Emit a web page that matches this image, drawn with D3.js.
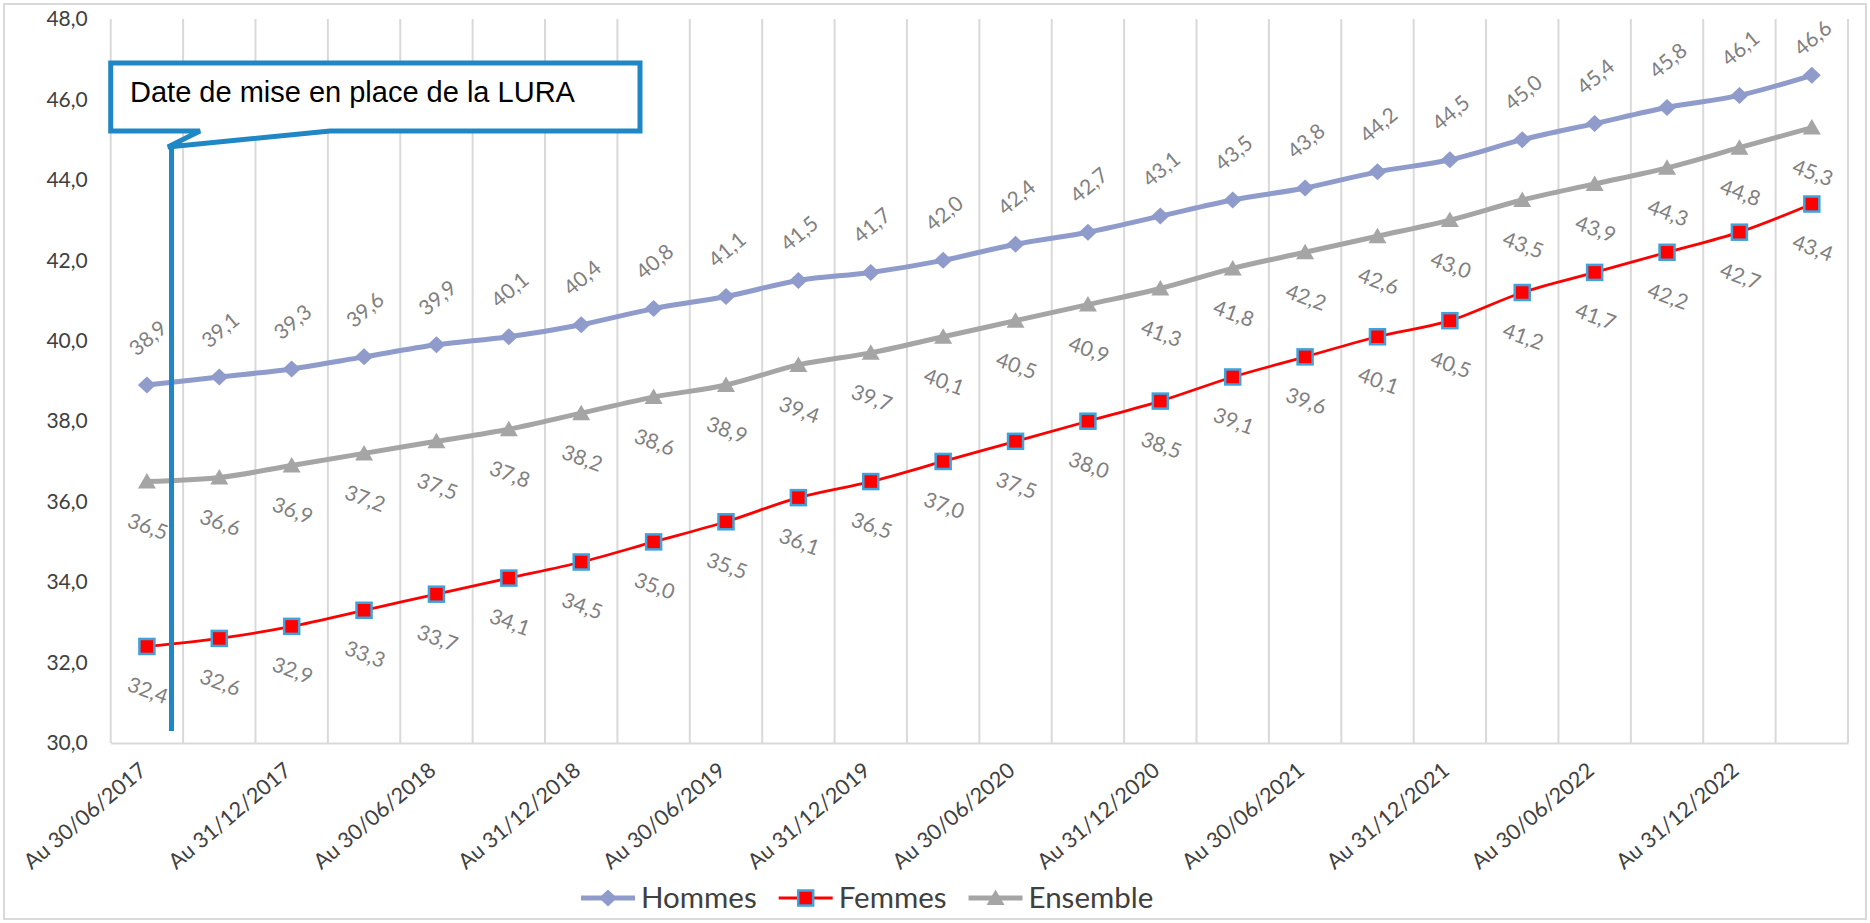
<!DOCTYPE html>
<html>
<head>
<meta charset="utf-8">
<script src="https://cdn.jsdelivr.net/npm/d3@7"></script>
<style>
  html, body { margin: 0; padding: 0; background: #ffffff; }
  svg { display: block; }
  text { font-family: Lato, "Noto Sans", sans-serif; }
</style>
</head>
<body>
<svg id="chart" width="1870" height="923"></svg>
<script>
// ---------- DATA ----------
const categories = [
  "Au 30/06/2017","Au 30/09/2017","Au 31/12/2017","Au 31/03/2018",
  "Au 30/06/2018","Au 30/09/2018","Au 31/12/2018","Au 31/03/2019",
  "Au 30/06/2019","Au 30/09/2019","Au 31/12/2019","Au 31/03/2020",
  "Au 30/06/2020","Au 30/09/2020","Au 31/12/2020","Au 31/03/2021",
  "Au 30/06/2021","Au 30/09/2021","Au 31/12/2021","Au 31/03/2022",
  "Au 30/06/2022","Au 30/09/2022","Au 31/12/2022","Au 31/03/2023"
];
const hommes = [38.9,39.1,39.3,39.6,39.9,40.1,40.4,40.8,41.1,41.5,41.7,42.0,
                42.4,42.7,43.1,43.5,43.8,44.2,44.5,45.0,45.4,45.8,46.1,46.6];
const femmes = [32.4,32.6,32.9,33.3,33.7,34.1,34.5,35.0,35.5,36.1,36.5,37.0,
                37.5,38.0,38.5,39.1,39.6,40.1,40.5,41.2,41.7,42.2,42.7,43.4];
const ensemble = [36.5,36.6,36.9,37.2,37.5,37.8,38.2,38.6,38.9,39.4,39.7,40.1,
                  40.5,40.9,41.3,41.8,42.2,42.6,43.0,43.5,43.9,44.3,44.8,45.3];
const seriesNames = ["Hommes","Femmes","Ensemble"];
const yTicks = [30,32,34,36,38,40,42,44,46,48];
const calloutText = "Date de mise en place de la LURA";

// ---------- SETUP ----------
const W = 1870, H = 923;
const plot = { left: 110.7, right: 1848, top: 19, bottom: 743 };
const svg = d3.select("#chart");
const fr = d3.formatLocale({ decimal: ",", thousands: " ", grouping: [3], currency: ["", ""] });
const fmt = fr.format(".1f");

const x = d3.scaleBand().domain(categories).range([plot.left, plot.right]).padding(0);
const y = d3.scaleLinear().domain([30, 48]).range([plot.bottom, plot.top]);
const cx = (i) => x(categories[i]) + x.bandwidth() / 2;

// chart border
svg.append("rect").attr("x", 4).attr("y", 4).attr("width", W - 8).attr("height", H - 8)
  .attr("fill", "#fff").attr("stroke", "#d9d9d9").attr("stroke-width", 2);

// vertical gridlines (category boundaries)
const bounds = categories.map(c => x(c)).concat([x.range()[1]]);
svg.append("g").selectAll("line").data(bounds).join("line")
  .attr("x1", d => d).attr("x2", d => d)
  .attr("y1", plot.top).attr("y2", plot.bottom)
  .attr("stroke", "#d9d9d9").attr("stroke-width", 2);

// x axis
const xAxis = svg.append("g").attr("transform", `translate(0,${plot.bottom})`)
  .call(d3.axisBottom(x).tickSize(0).tickFormat((d, i) => i % 2 === 0 ? d : ""));
xAxis.select(".domain").attr("stroke", "#d9d9d9").attr("stroke-width", 2);
xAxis.selectAll("text")
  .attr("x", 0).attr("y", 0).attr("dy", "0.35em")
  .attr("transform", "translate(-4,24) rotate(-40)")
  .attr("text-anchor", "end")
  .attr("fill", "#404040")
  .style("font-size", "21.6px");

// y axis
const yAxis = svg.append("g").attr("transform", `translate(${plot.left},0)`)
  .call(d3.axisLeft(y).tickValues(yTicks).tickSize(0).tickPadding(23).tickFormat(fmt));
yAxis.select(".domain").remove();
yAxis.selectAll("text").attr("fill", "#404040").style("font-size", "21px");

// ---------- SERIES ----------
const line = d3.line().x((d, i) => cx(i)).y(d => y(d)).curve(d3.curveMonotoneX);

const diamond = "M0,-8.5L9,0L0,8.5L-9,0Z";
const triangle = "M0,-8.5L9,7L-9,7Z";

// Ensemble
svg.append("path").datum(ensemble).attr("d", line)
  .attr("fill", "none").attr("stroke", "#a5a5a5").attr("stroke-width", 5);
// Hommes
svg.append("path").datum(hommes).attr("d", line)
  .attr("fill", "none").attr("stroke", "#8e9bcb").attr("stroke-width", 5);
// Femmes
svg.append("path").datum(femmes).attr("d", line)
  .attr("fill", "none").attr("stroke", "#ff0000").attr("stroke-width", 2.8);

svg.append("g").selectAll("path").data(ensemble).join("path")
  .attr("d", triangle).attr("fill", "#a5a5a5")
  .attr("transform", (d, i) => `translate(${cx(i)},${y(d)})`);
svg.append("g").selectAll("path").data(hommes).join("path")
  .attr("d", diamond).attr("fill", "#8e9bcb")
  .attr("transform", (d, i) => `translate(${cx(i)},${y(d)})`);
svg.append("g").selectAll("rect").data(femmes).join("rect")
  .attr("x", (d, i) => cx(i) - 7.5).attr("y", d => y(d) - 7.5)
  .attr("width", 15).attr("height", 15)
  .attr("fill", "#ff0000").attr("stroke", "#3ea2dc").attr("stroke-width", 2.5);

// data labels
function labels(data, off, rot, clampTop) {
  svg.append("g").selectAll("text").data(data).join("text")
    .attr("transform", (d, i) => {
      let yy = y(d) + off;
      if (clampTop !== undefined) yy = Math.max(yy, clampTop);
      return `translate(${cx(i) + 1},${yy}) rotate(${rot})`;
    })
    .attr("text-anchor", "middle").attr("dy", "0.35em")
    .attr("fill", "#808080").style("font-size", "21px")
    .text(d => fmt(d));
}
labels(hommes, -47, -40, 38);
labels(ensemble, 45, 20);
labels(femmes, 44, 20);

// ---------- CALLOUT ----------
const x0 = cx(0);
const lineX = x(categories[0]) + x.bandwidth() * 0.84;
const bx1 = plot.left, bx2 = 640, by1 = 63, by2 = 131;
const tipX = x0 + 21, tipY = 147;
svg.append("path")
  .attr("d", `M${bx1},${by1}L${bx2},${by1}L${bx2},${by2}L330,${by2}L${tipX},${tipY}L200,${by2}L${bx1},${by2}Z`)
  .attr("fill", "#fff").attr("stroke", "#1f87c3").attr("stroke-width", 5)
  .attr("stroke-linejoin", "miter");
svg.append("line").attr("x1", lineX).attr("x2", lineX).attr("y1", tipY).attr("y2", 731)
  .attr("stroke", "#1f87c3").attr("stroke-width", 5);
svg.append("text").attr("x", 130).attr("y", 102)
  .style("font-family", "'Liberation Sans', Arial, sans-serif").style("font-size", "29px")
  .attr("fill", "#000").text(calloutText);

// ---------- LEGEND ----------
const legendColors = ["#8e9bcb", "#ff0000", "#a5a5a5"];
const legendWidths = [5, 2.8, 5];
const lg = svg.append("g");
let lx = 581;
const ly = 898;
seriesNames.forEach((name, k) => {
  const g = lg.append("g");
  g.append("line").attr("x1", lx).attr("x2", lx + 54).attr("y1", ly).attr("y2", ly)
    .attr("stroke", legendColors[k]).attr("stroke-width", legendWidths[k]);
  const mx = lx + 27;
  if (k === 0) g.append("path").attr("d", diamond).attr("fill", legendColors[0]).attr("transform", `translate(${mx},${ly})`);
  if (k === 1) g.append("rect").attr("x", mx - 7.5).attr("y", ly - 7.5).attr("width", 15).attr("height", 15)
      .attr("fill", "#ff0000").attr("stroke", "#3ea2dc").attr("stroke-width", 2.5);
  if (k === 2) g.append("path").attr("d", triangle).attr("fill", legendColors[2]).attr("transform", `translate(${mx},${ly})`);
  const t = g.append("text").attr("x", lx + 60).attr("y", ly).attr("dy", "0.35em")
    .attr("fill", "#404040").style("font-size", "29.5px").text(name);
  lx = lx + 60 + t.node().getComputedTextLength() + 22;
});
</script>
</body>
</html>
